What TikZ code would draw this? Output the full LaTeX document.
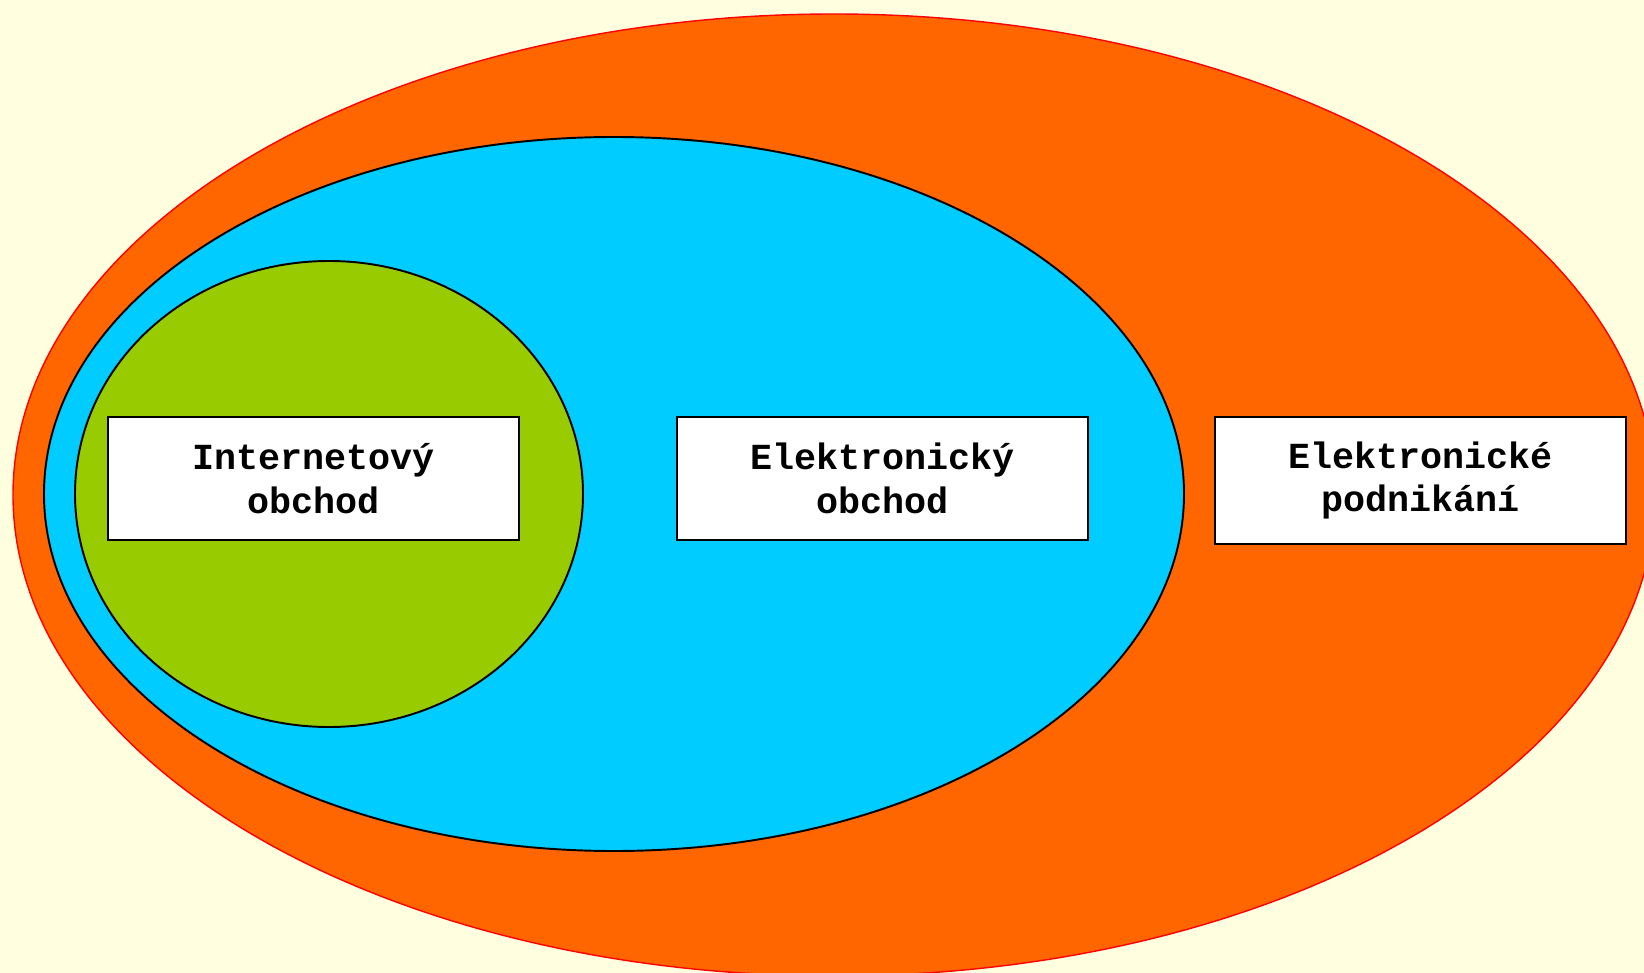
\documentclass[tikz,border=0pt]{standalone}
\usepackage{fontspec}
\newfontfamily\boxfont{Liberation Mono}
\usepackage{tikz}
\usetikzlibrary{positioning}

\definecolor{bgyellow}{HTML}{FFFFE0}
\definecolor{ebizorange}{HTML}{FF6600}
\definecolor{ecomblue}{HTML}{00CCFF}
\definecolor{icomgreen}{HTML}{99CC00}

\begin{document}
\begin{tikzpicture}[
    x=0.02cm, y=-0.02cm,
    area/.style={draw=black, line width=1.1pt},
    label box/.style={rectangle, draw=black, fill=white, line width=1.1pt, minimum width=8.22cm, minimum height=2.46cm, align=center, font=\boxfont\bfseries\fontsize{20.9}{25}\selectfont}
]
    % Background
    \fill[bgyellow] (0,0) rectangle (1644,973);
    \useasboundingbox (0,0) rectangle (1644,973);
    \clip (0,0) rectangle (1644,973);

    % Ellipses
    \draw[fill=ebizorange, draw=red, line width=0.8pt] (834,495) ellipse [x radius=821, y radius=481];
    \draw[area, fill=ecomblue] (614,494) ellipse [x radius=570, y radius=357];
    \draw[area, fill=icomgreen] (329,494) ellipse [x radius=254, y radius=233];

    % Labels
    \node[label box] (icom) at (313.5,478.5) {Internetový\\obchod};
    \node[label box] (ecom) at (882.5,478.5) {Elektronický\\obchod};
    \node[label box, minimum height=2.54cm] (ebiz) at (1420.5,480.5) {Elektronické\\podnikání};
\end{tikzpicture}
\end{document}
